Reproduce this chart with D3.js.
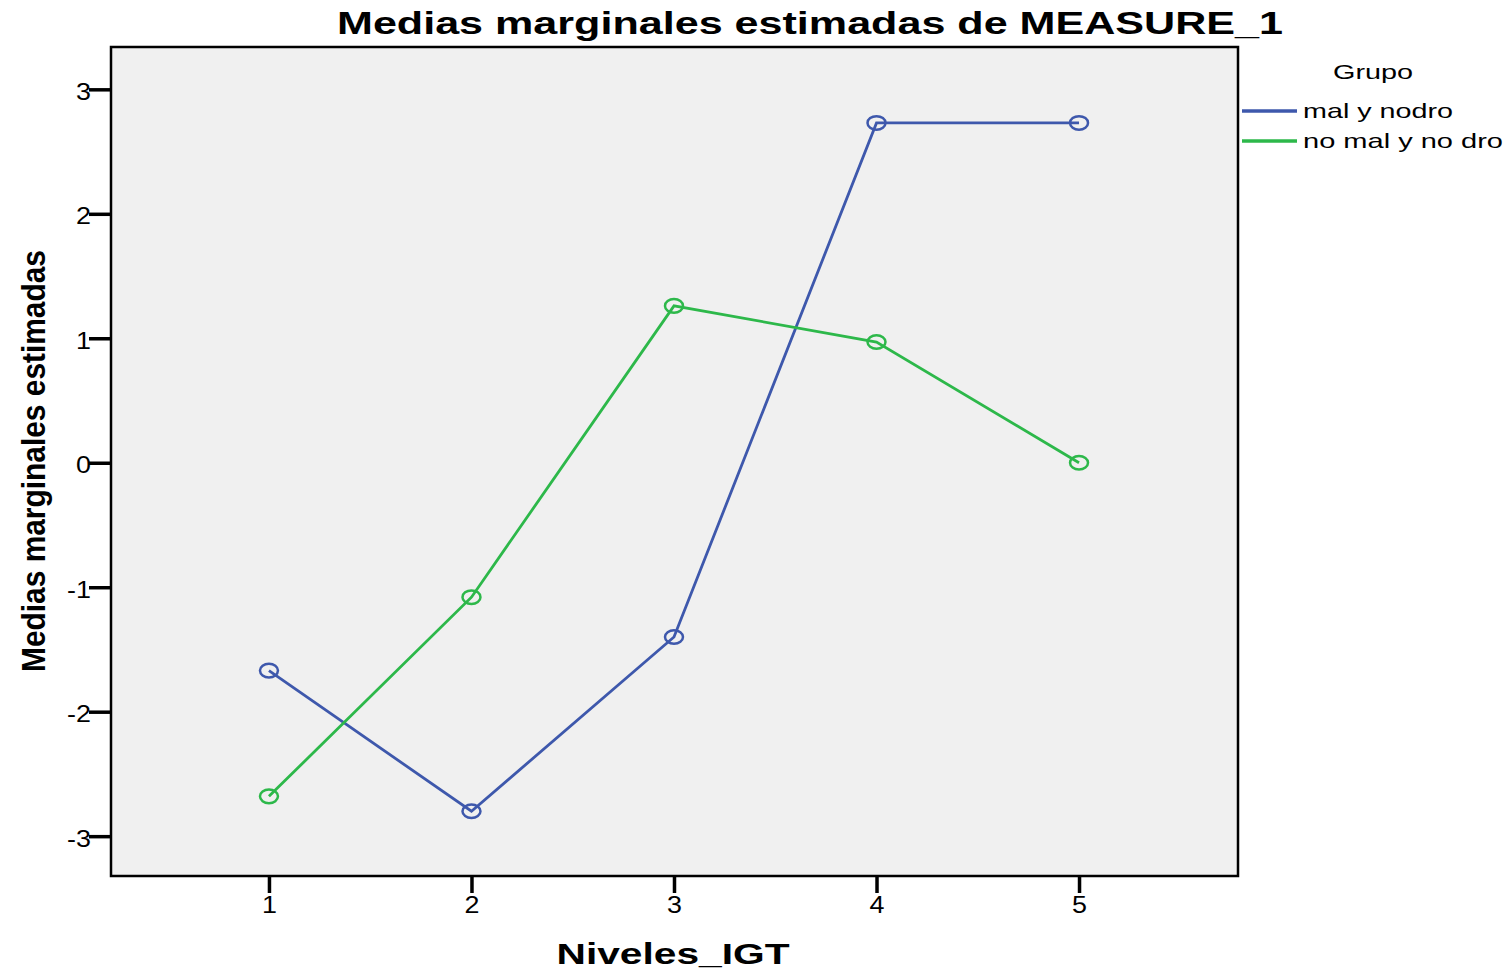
<!DOCTYPE html>
<html><head><meta charset="utf-8">
<script src="https://cdn.jsdelivr.net/npm/d3@7"></script>
<style>body{margin:0;background:#fff}svg{display:block}text{font-family:"Liberation Sans",Arial,sans-serif}</style>
</head><body>
<svg id="c" width="1510" height="973"></svg>
<script>
const levels = [1, 2, 3, 4, 5];
const seriesNames = ["mal y nodro", "no mal y no dro"];
const malYNodro = [-1.67, -2.80, -1.40, 2.73, 2.73];
const noMalYNoDro = [-2.68, -1.08, 1.26, 0.97, 0.00];
const yTicks = [-3, -2, -1, 0, 1, 2, 3];
const colors = ["#3e58ac", "#2db84a"];

const svg = d3.select("#c");
const L = 111, T = 47, R = 1238, B = 876;
const x = d3.scaleLinear().domain([0.22, 5.785]).range([L, R]);
const y = d3.scaleLinear().domain([-3.32, 3.34]).range([B, T]);
const SX = 1.12;

svg.append("rect").attr("x", L).attr("y", T).attr("width", R - L).attr("height", B - T)
  .attr("fill", "#f0f0f0").attr("stroke", "#000").attr("stroke-width", 2.5);

const yAxis = svg.append("g").attr("transform", `translate(${L},0)`)
  .call(d3.axisLeft(y).tickValues(yTicks).tickSize(22).tickPadding(0).tickFormat(d => d < 0 ? "-" + Math.abs(d) : String(d)));
yAxis.select(".domain").remove();
yAxis.selectAll("line").attr("stroke", "#000").attr("stroke-width", 3.5);
yAxis.selectAll("text").style("font-size", "24px").attr("fill", "#000").attr("dy", "0.42em")
  .attr("x", -20 / SX).attr("transform", `scale(${SX},1)`).style("font-family", "'Liberation Sans',Arial,sans-serif");

const xAxis = svg.append("g").attr("transform", `translate(0,${B})`)
  .call(d3.axisBottom(x).tickValues(levels).tickSize(17).tickPadding(0).tickFormat(d3.format("d")));
xAxis.select(".domain").remove();
xAxis.selectAll("line").attr("stroke", "#000").attr("stroke-width", 3.5);
xAxis.selectAll(".tick").each(function(d) {
  d3.select(this).select("text").style("font-size", "24px").attr("fill", "#000")
    .attr("y", 37).attr("dy", null).attr("transform", `scale(${SX},1)`)
    .style("font-family", "'Liberation Sans',Arial,sans-serif");
});

const data = [malYNodro, noMalYNoDro];
const line = d3.line().x((d, i) => x(levels[i])).y(d => y(d));
data.forEach((vals, k) => {
  svg.append("path").attr("d", line(vals)).attr("fill", "none")
    .attr("stroke", colors[k]).attr("stroke-width", 2.8);
  svg.selectAll(null).data(vals).enter().append("ellipse")
    .attr("cx", (d, i) => x(levels[i])).attr("cy", d => y(d))
    .attr("rx", 9).attr("ry", 6.8).attr("fill", "none")
    .attr("stroke", colors[k]).attr("stroke-width", 2.5);
});

svg.append("text").attr("x", 810).attr("y", 34).attr("text-anchor", "middle")
  .attr("font-size", 32).attr("font-weight", "bold")
  .attr("textLength", 946).attr("lengthAdjust", "spacingAndGlyphs")
  .text("Medias marginales estimadas de MEASURE_1");
svg.append("text").attr("x", 673).attr("y", 964).attr("text-anchor", "middle")
  .attr("font-size", 29).attr("font-weight", "bold")
  .attr("textLength", 233).attr("lengthAdjust", "spacingAndGlyphs")
  .text("Niveles_IGT");
svg.append("text").attr("transform", "translate(45,461) rotate(-90)").attr("text-anchor", "middle")
  .attr("font-size", 34).attr("font-weight", "bold").attr("textLength", 422).attr("lengthAdjust", "spacingAndGlyphs")
  .text("Medias marginales estimadas");

svg.append("text").attr("x", 1373).attr("y", 79).attr("text-anchor", "middle")
  .attr("font-size", 20).attr("textLength", 80).attr("lengthAdjust", "spacingAndGlyphs").text("Grupo");
const legW = [150, 200];
seriesNames.forEach((n, k) => {
  const yy = 111 + k * 30;
  svg.append("line").attr("x1", 1242).attr("x2", 1297).attr("y1", yy).attr("y2", yy)
    .attr("stroke", colors[k]).attr("stroke-width", 3.5);
  svg.append("text").attr("x", 1303).attr("y", yy + 7).attr("font-size", 21)
    .attr("textLength", legW[k]).attr("lengthAdjust", "spacingAndGlyphs").text(n);
});
</script>
</body></html>
